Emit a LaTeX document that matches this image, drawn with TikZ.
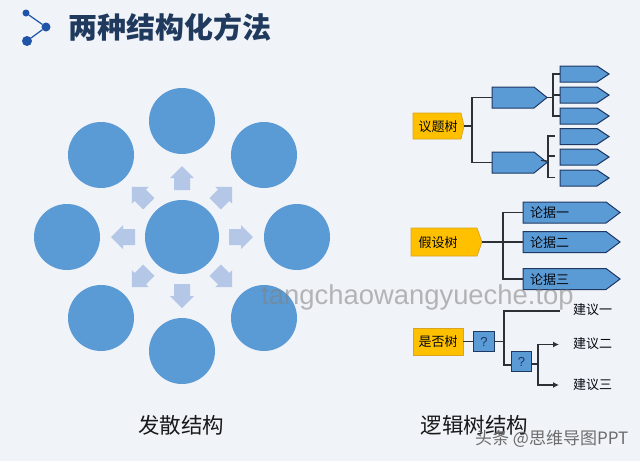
\documentclass[tikz,border=0pt]{standalone}
\usepackage{fontspec}
\setmainfont{Noto Sans CJK SC}
\setsansfont{Liberation Sans}
\usetikzlibrary{calc,arrows.meta}
\definecolor{bgc}{HTML}{F0F3F8}
\definecolor{blu}{HTML}{5B9BD5}
\definecolor{lblu}{HTML}{B4C7E7}
\definecolor{navy}{HTML}{1F3864}
\definecolor{ttl}{HTML}{203A5E}
\definecolor{icon}{HTML}{1F54A8}
\definecolor{gold}{HTML}{FFC000}
\definecolor{goldb}{HTML}{D9A520}
\definecolor{lnk}{HTML}{2B3136}
\tikzset{
  bubble/.style={circle,fill=blu,inner sep=0pt,outer sep=0pt},
  anchorbox/.style={inner sep=0pt,outer sep=0pt},
  blueface/.style={fill=blu,draw=navy,line width=1pt,line join=miter},
  goldface/.style={fill=gold,draw=goldb,line width=0.7pt},
  lnkline/.style={draw=lnk,line width=1.2pt},
  arrowline/.style={lnkline,-{Latex[length=6pt,width=6pt]}},
  boxtxt/.style={inner sep=0pt,font=\fontsize{13}{13}\selectfont,text=black!85!navy},
  caption/.style={inner sep=0pt,font=\fontsize{21.5}{22}\selectfont,text=black!90},
  movearrow/.style={fill=lblu,draw=none},
  qbox/.style={anchorbox,fill=blu,draw=navy,line width=1pt,minimum size=20.5pt,font=\sffamily\fontsize{13}{13}\selectfont,text=navy},
}
% name, centre x, centre y, width, height, head length, style
\newcommand\tagbox[7]{%
  \node[anchorbox,minimum width=#4pt,minimum height=#5pt] (#1) at (#2,#3) {};
  \path[#7] (#1.north west) -- ($(#1.north east)+(-#6,0)$) -- (#1.east)
    -- ($(#1.south east)+(-#6,0)$) -- (#1.south west) -- cycle;
}
\begin{document}
\begin{tikzpicture}[x=1pt,y=-1pt]
\useasboundingbox (0,0) rectangle (640,461);
\fill[bgc] (0,0) rectangle (640,461);
% title
\node[bubble,fill=icon,minimum size=7pt] (i1) at (26,13) {};
\node[bubble,fill=icon,minimum size=9pt] (i2) at (46,27) {};
\node[bubble,fill=icon,minimum size=10pt] (i3) at (27,41) {};
\draw[icon,line width=1.2pt] (i1) -- (i2) -- (i3);
\node[anchor=west,inner sep=0pt,font=\fontsize{29}{30}\selectfont\bfseries,text=ttl] (title) at (68,27) {两种结构化方法};
% radial diagram
\foreach \a in {0,45,...,315}{
  \begin{scope}[shift={(182,237)},rotate=\a]
    \path[movearrow] (47,-8) -- (59,-8) -- (59,-12) -- (71,0) -- (59,12) -- (59,8) -- (47,8) -- cycle;
  \end{scope}
}
\node[bubble,minimum size=74pt] (hub) at (182,237) {};
\node[bubble,minimum size=66pt] (c1) at (182,121) {};
\node[bubble,minimum size=66pt] (c2) at (264,155) {};
\node[bubble,minimum size=66pt] (c3) at (297,237) {};
\node[bubble,minimum size=66pt] (c4) at (264,318) {};
\node[bubble,minimum size=66pt] (c5) at (182,351) {};
\node[bubble,minimum size=66pt] (c6) at (101,318) {};
\node[bubble,minimum size=66pt] (c7) at (67,237) {};
\node[bubble,minimum size=66pt] (c8) at (101,155) {};
\node[caption] (cap1) at (181,425) {发散结构};
% issue tree
\tagbox{r1}{438.5}{126}{51}{26}{3}{goldface}
\node[boxtxt] (r1t) at (438,126.5) {议题树};
\tagbox{a1}{519.5}{97.5}{55}{21}{13}{blueface}
\tagbox{a2}{519.5}{162.5}{55}{21}{13}{blueface}
\tagbox{l1}{584.5}{74}{49}{16}{12}{blueface}
\tagbox{l2}{584.5}{95}{49}{16}{12}{blueface}
\tagbox{l3}{584.5}{116}{49}{16}{12}{blueface}
\tagbox{l4}{584.5}{136.5}{49}{16}{12}{blueface}
\tagbox{l5}{584.5}{157}{49}{16}{12}{blueface}
\tagbox{l6}{584.5}{178}{49}{16}{12}{blueface}
\coordinate (j1) at (472,126);
\coordinate (j2) at (553,97.5);
\coordinate (j3) at (548,161);
\coordinate (s4) at (555,136);
\coordinate (s5) at (555,156);
\coordinate (s6) at (555,177.5);
\draw[lnkline] (r1.east) -- (j1);
\draw[lnkline] (j1) |- (a1.west);
\draw[lnkline] (j1) |- (a2.west);
\draw[lnkline] (a1.east) -- (j2);
\draw[lnkline] (j2) |- (l1.west);
\draw[lnkline] (j2) |- (l2.west);
\draw[lnkline] (j2) |- (l3.west);
\draw[lnkline] ($(a2.east)+(-6,-2)$) -- (j3);
\draw[lnkline] (j3) |- (s4);
\draw[lnkline] (j3) |- (s5);
\draw[lnkline] (j3) |- (s6);
% hypothesis tree
\tagbox{r2}{446.5}{242}{71}{28}{5}{goldface}
\node[boxtxt] (r2t) at (438,242.5) {假设树};
\tagbox{b1}{571.5}{212.5}{97}{21}{14}{blueface}
\tagbox{b2}{571.5}{242}{97}{21}{14}{blueface}
\tagbox{b3}{571.5}{279}{97}{21}{14}{blueface}
\coordinate (j4) at (503,242);
\draw[lnkline] (r2.east) -- (b2.west);
\draw[lnkline] (j4) |- (b1.west);
\draw[lnkline] (j4) |- (b3.west);
\node[boxtxt,anchor=west] (b1t) at (530,213) {论据一};
\node[boxtxt,anchor=west] (b2t) at (530,242.5) {论据二};
\node[boxtxt,anchor=west] (b3t) at (530,279.5) {论据三};
% yes-no tree
\node[anchorbox,fill=gold,draw=goldb,line width=0.7pt,minimum width=50pt,minimum height=27pt] (r3) at (438,341.5) {};
\node[boxtxt] (r3t) at (438,342) {是否树};
\node[qbox] (q1) at (484,341.5) {?};
\node[qbox] (q2) at (521.5,361.5) {?};
\coordinate (j5) at (504,341.5);
\coordinate (j6) at (538,364);
\node[boxtxt,anchor=west] (s1) at (573,310) {建议一};
\node[boxtxt,anchor=west] (s2) at (573,344) {建议二};
\node[boxtxt,anchor=west] (s3) at (573,384.5) {建议三};
\coordinate (e1) at (560,311);
\coordinate (e2) at (559,344.5);
\coordinate (e3) at (559,385);
\draw[lnkline] (r3.east) -- (q1.west);
\draw[lnkline] (q1.east) -- (j5);
\draw[lnkline] (j5) |- (e1);
\draw[lnkline] (j5) |- (q2.west |- 0,365);
\draw[lnkline] (q2.east |- 0,364) -- (j6);
\draw[arrowline] (j6) |- (e2);
\draw[arrowline] (j6) |- (e3);
\node[caption] (cap2) at (474.5,425) {逻辑树结构};
% watermarks
\node[inner sep=0pt,font=\sffamily\fontsize{27.4}{28}\selectfont,text=gray,opacity=0.55] (wm) at (417.5,297) {tangchaowangyueche.top};
\node[anchor=west,inner sep=0pt,font=\fontsize{17}{18}\selectfont,text=gray!85!black] (wm2) at (475,439) {头条 @思维导图PPT};
\end{tikzpicture}
\end{document}
